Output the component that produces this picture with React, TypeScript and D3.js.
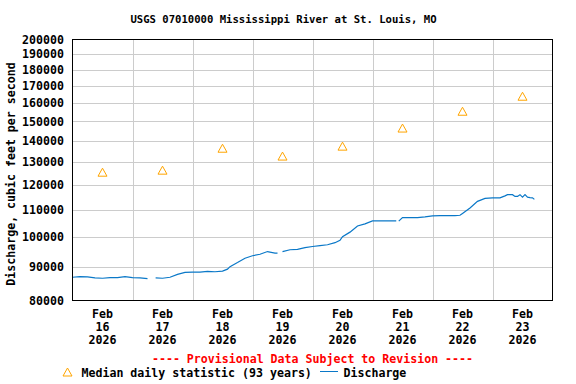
import React, { useEffect, useRef } from 'react';
import * as d3 from 'd3';

// Median daily statistic, one per day (plotted at noon)
const medianDays = ['2026-02-16', '2026-02-17', '2026-02-18', '2026-02-19', '2026-02-20', '2026-02-21', '2026-02-22', '2026-02-23'];
const medianValues = [125300, 126200, 136300, 132600, 137300, 146300, 155200, 163600];

// Discharge readings, null marks a gap in the record
const dischargeTimes = [
  '2026-02-16T00:00', '2026-02-16T03:00', '2026-02-16T06:00', '2026-02-16T09:00', '2026-02-16T12:00', '2026-02-16T15:00', '2026-02-16T18:00', '2026-02-16T21:00',
  '2026-02-17T00:00', '2026-02-17T03:00', '2026-02-17T06:00', '2026-02-17T07:00', '2026-02-17T09:15', '2026-02-17T12:00', '2026-02-17T15:00', '2026-02-17T18:00', '2026-02-17T21:00',
  '2026-02-18T00:00', '2026-02-18T03:00', '2026-02-18T06:00', '2026-02-18T09:00', '2026-02-18T12:00', '2026-02-18T14:00', '2026-02-18T15:00', '2026-02-18T18:00', '2026-02-18T21:00',
  '2026-02-19T00:00', '2026-02-19T03:00', '2026-02-19T06:00', '2026-02-19T09:00', '2026-02-19T10:00', '2026-02-19T11:00', '2026-02-19T12:00', '2026-02-19T15:00', '2026-02-19T18:00', '2026-02-19T21:00',
  '2026-02-20T00:00', '2026-02-20T03:00', '2026-02-20T06:00', '2026-02-20T09:00', '2026-02-20T11:00', '2026-02-20T12:00', '2026-02-20T15:00', '2026-02-20T18:00', '2026-02-20T21:00',
  '2026-02-21T00:00', '2026-02-21T03:00', '2026-02-21T06:00', '2026-02-21T09:30', '2026-02-21T10:00', '2026-02-21T10:30', '2026-02-21T12:00', '2026-02-21T15:00', '2026-02-21T18:00', '2026-02-21T21:00',
  '2026-02-22T00:00', '2026-02-22T03:00', '2026-02-22T06:00', '2026-02-22T09:00', '2026-02-22T11:00', '2026-02-22T12:00', '2026-02-22T15:00', '2026-02-22T18:00', '2026-02-22T21:00',
  '2026-02-23T00:00', '2026-02-23T03:00', '2026-02-23T05:00', '2026-02-23T06:00', '2026-02-23T08:00', '2026-02-23T09:00', '2026-02-23T10:00', '2026-02-23T11:00', '2026-02-23T12:00', '2026-02-23T13:00', '2026-02-23T14:00', '2026-02-23T15:00', '2026-02-23T16:00', '2026-02-23T16:45',
];
const dischargeValues = [
  86800, 87000, 86900, 86600, 86500, 86700, 86700, 87000,
  86700, 86600, 86400, null, 86600, 86500, 86800, 87700, 88300,
  88400, 88400, 88600, 88500, 88700, 89300, 90100, 91400, 92800,
  93600, 94100, 95000, 94500, 94500, null, 95000, 95600, 95700, 96300,
  96700, 97000, 97300, 98000, 98800, 100100, 101700, 103900, 104700,
  105800, 105800, 105800, 105800, null, 105700, 107000, 107000, 107000, 107300,
  107700, 107800, 107800, 107800, 107900, 108600, 110700, 113300, 114500,
  114700, 114700, 115500, 116000, 116000, 115300, 115300, 116000, 115000, 116000, 115000, 114800, 114700, 114100,
];

const yTicks = [80000, 90000, 100000, 110000, 120000, 130000, 140000, 150000, 160000, 170000, 180000, 190000, 200000];
const startDay = '2026-02-16';
const endDay = '2026-02-24';

const FONT = '"DejaVu Sans Mono", monospace';

const App = () => {
  const svgRef = useRef<SVGSVGElement>(null);

  useEffect(() => {
    const svg = d3.select(svgRef.current);
    svg.selectAll('*').remove();

    const width = 576;
    const height = 384;
    const left = 72.5, right = 552.5, top = 39.5, bottom = 300.5;

    const parseDay = d3.utcParse('%Y-%m-%d');
    const parseTime = d3.utcParse('%Y-%m-%dT%H:%M');

    const x = d3.scaleUtc()
      .domain([parseDay(startDay), parseDay(endDay)])
      .range([left, right]);
    const y = d3.scaleLog()
      .domain([80000, 200000])
      .range([bottom, top]);

    svg.append('rect').attr('width', width).attr('height', height).attr('fill', 'white');

    // Title
    svg.append('text')
      .attr('x', 283.5)
      .attr('y', 23)
      .attr('text-anchor', 'middle')
      .style('font-family', FONT)
      .style('font-size', '10.6px')
      .style('font-weight', 'bold')
      .text('USGS 07010000 Mississippi River at St. Louis, MO');

    // Horizontal grid
    svg.append('g')
      .selectAll('line')
      .data(yTicks.slice(1, -1))
      .enter()
      .append('line')
      .attr('x1', left).attr('x2', right)
      .attr('y1', d => Math.round(y(d)) + 0.5)
      .attr('y2', d => Math.round(y(d)) + 0.5)
      .attr('stroke', '#cccccc')
      .attr('stroke-width', 1);

    // Vertical grid at midnights
    const midnights = d3.utcDay.range(parseDay(startDay), parseDay(endDay)).slice(1);
    svg.append('g')
      .selectAll('line')
      .data(midnights)
      .enter()
      .append('line')
      .attr('x1', d => Math.round(x(d)) + 0.5)
      .attr('x2', d => Math.round(x(d)) + 0.5)
      .attr('y1', top).attr('y2', bottom)
      .attr('stroke', '#cccccc')
      .attr('stroke-width', 1);

    // Y tick labels
    svg.append('g')
      .selectAll('text')
      .data(yTicks)
      .enter()
      .append('text')
      .attr('x', 64)
      .attr('y', d => y(d))
      .attr('dy', '0.36em')
      .attr('text-anchor', 'end')
      .style('font-family', FONT)
      .style('font-size', '11.6px')
      .style('font-weight', 'bold')
      .text(d => String(d));

    // Y axis title
    svg.append('text')
      .attr('transform', 'rotate(-90)')
      .attr('x', -174)
      .attr('y', 15)
      .attr('text-anchor', 'middle')
      .style('font-family', FONT)
      .style('font-size', '11.6px')
      .style('font-weight', 'bold')
      .text('Discharge, cubic feet per second');

    // X tick labels at noon
    const noonFmt = d3.utcFormat('%d');
    const xLabels = svg.append('g')
      .selectAll('text')
      .data(medianDays.map(d => d3.utcHour.offset(parseDay(d), 12)))
      .enter()
      .append('text')
      .attr('x', d => x(d))
      .attr('y', 318)
      .attr('text-anchor', 'middle')
      .style('font-family', FONT)
      .style('font-size', '11.6px')
      .style('font-weight', 'bold');
    xLabels.append('tspan').attr('x', d => x(d)).attr('dy', 0).text(d => d3.utcFormat('%b')(d));
    xLabels.append('tspan').attr('x', d => x(d)).attr('dy', 13).text(d => noonFmt(d));
    xLabels.append('tspan').attr('x', d => x(d)).attr('dy', 13).text(d => d3.utcFormat('%Y')(d));

    // Discharge line
    const discharge = dischargeTimes.map((t, i) => ({ t: parseTime(t), v: dischargeValues[i] }));
    const line = d3.line<any>()
      .defined(d => d.v != null)
      .x(d => x(d.t))
      .y(d => y(d.v));
    svg.append('path')
      .datum(discharge)
      .attr('fill', 'none')
      .attr('stroke', '#0a78c8')
      .attr('stroke-width', 1.2)
      .attr('d', line);

    // Median triangles
    const tri = (cx: number, cy: number) => `M${cx},${cy - 4.5}L${cx + 4.5},${cy + 3.5}L${cx - 4.5},${cy + 3.5}Z`;
    svg.append('g')
      .selectAll('path')
      .data(medianDays)
      .enter()
      .append('path')
      .attr('d', (d, i) => tri(x(d3.utcHour.offset(parseDay(d), 12)), y(medianValues[i])))
      .attr('fill', 'none')
      .attr('stroke', '#ffa500')
      .attr('stroke-width', 1);

    // Plot border
    svg.append('rect')
      .attr('x', left).attr('y', top)
      .attr('width', right - left).attr('height', bottom - top)
      .attr('fill', 'none')
      .attr('stroke', 'black')
      .attr('stroke-width', 1);

    // Provisional note
    svg.append('text')
      .attr('x', 312.5)
      .attr('y', 363)
      .attr('text-anchor', 'middle')
      .attr('fill', '#ff0000')
      .style('font-family', FONT)
      .style('font-size', '11.6px')
      .style('font-weight', 'bold')
      .text('---- Provisional Data Subject to Revision ----');

    // Legend
    svg.append('path')
      .attr('d', tri(67.5, 372.5))
      .attr('fill', 'none')
      .attr('stroke', '#ffa500');
    svg.append('text')
      .attr('x', 81.5)
      .attr('y', 377)
      .style('font-family', FONT)
      .style('font-size', '11.6px')
      .style('font-weight', 'bold')
      .text('Median daily statistic (93 years)');
    svg.append('line')
      .attr('x1', 320).attr('x2', 338)
      .attr('y1', 371.5).attr('y2', 371.5)
      .attr('stroke', '#0a78c8')
      .attr('stroke-width', 1);
    svg.append('text')
      .attr('x', 343.5)
      .attr('y', 377)
      .style('font-family', FONT)
      .style('font-size', '11.6px')
      .style('font-weight', 'bold')
      .text('Discharge');
  }, []);

  return (
    <svg
      ref={svgRef}
      width={576}
      height={384}
      style={{ position: 'absolute', left: 0, top: 0 }}
    />
  );
};

export default App;
